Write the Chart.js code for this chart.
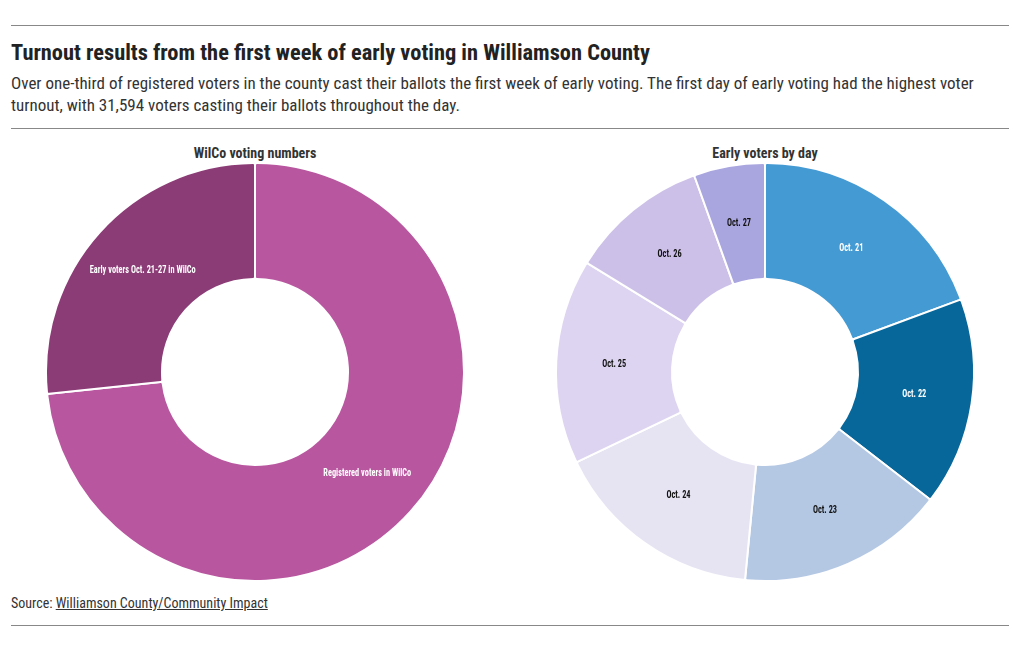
<!DOCTYPE html>
<html>
<head>
<meta charset="utf-8">
<script src="https://cdn.jsdelivr.net/npm/chart.js@4"></script>
<style>
  body { margin: 0; background: #fff; font-family: "Roboto Condensed", "Liberation Sans Narrow", "DejaVu Sans Condensed", Roboto, sans-serif; color: #333; }
  #page { position: relative; width: 1020px; height: 650px; }
  .rule { position: absolute; left: 11px; width: 998px; height: 1px; background: #888; }
  #title { position: absolute; left: 11px; top: 39px; font-size: 22.4px; font-weight: bold; color: #222; white-space: nowrap; }
  #sub { position: absolute; left: 11px; top: 72px; width: 990px; font-size: 17px; line-height: 22px; color: #333; }
  .ctitle { position: absolute; top: 145px; width: 488px; text-align: center; font-size: 14px; font-weight: bold; color: #333; }
  .box { position: absolute; top: 162px; width: 488px; height: 420px; }
  #source { position: absolute; left: 11px; top: 595px; font-size: 14px; color: #333; }
  #source a { color: #333; text-decoration: underline; }
</style>
</head>
<body>
<div id="page">
  <div class="rule" style="top:25px"></div>
  <div id="title">Turnout results from the first week of early voting in Williamson County</div>
  <div id="sub">Over one-third of registered voters in the county cast their ballots the first week of early voting. The first day of early voting had the highest voter turnout, with 31,594 voters casting their ballots throughout the day.</div>
  <div class="rule" style="top:128px"></div>

  <div class="ctitle" style="left:11px">WilCo voting numbers</div>
  <div class="ctitle" style="left:521px">Early voters by day</div>
  <div class="box" style="left:11px"><canvas id="left"></canvas></div>
  <div class="box" style="left:521px"><canvas id="right"></canvas></div>

  <div id="source">Source: <a href="#">Williamson County/Community Impact</a></div>
  <div class="rule" style="top:625px"></div>
</div>
<script>
// WilCo totals (clockwise from the top)
const wilcoLabels = ["Registered voters in WilCo", "Early voters Oct. 21-27 in WilCo"];
const wilcoValues = [437000, 159000];
const wilcoColors = ["#b8569f", "#8b3b75"];
const wilcoText = ["#fff", "#fff"];

// early voters per day
const dayLabels = ["Oct. 21", "Oct. 22", "Oct. 23", "Oct. 24", "Oct. 25", "Oct. 26", "Oct. 27"];
const dayValues = [31594, 26290, 26200, 26700, 25880, 17540, 8980];
const dayColors = ["#449ad3", "#07679b", "#b4c8e4", "#e6e4f3", "#ddd4f1", "#ccc0e8", "#a9a5df"];
const dayText = ["#fff", "#fff", "#111", "#111", "#111", "#111", "#111"];

const labelFont = '"Roboto Condensed", "Liberation Sans Narrow", "DejaVu Sans Condensed", Roboto, sans-serif';

// draws each slice name in the middle of its arc (squeezed a bit, the original font is narrower)
const sliceLabels = {
  id: "sliceLabels",
  afterDatasetsDraw(chart, args, opts) {
    const ctx = chart.ctx;
    const meta = chart.getDatasetMeta(0);
    ctx.font = "bold 10px " + labelFont;
    ctx.textAlign = "center";
    ctx.textBaseline = "middle";
    meta.data.forEach((arc, i) => {
      const p = arc.tooltipPosition();
      ctx.save();
      ctx.translate(p.x, p.y);
      ctx.scale(0.83, 1);
      ctx.fillStyle = opts.colors[i];
      ctx.fillText(chart.data.labels[i], 0, 0);
      ctx.restore();
    });
  }
};

function makeDonut(id, labels, values, colors, textColors) {
  new Chart(document.getElementById(id), {
    type: "doughnut",
    data: {
      labels: labels,
      datasets: [{
        data: values,
        backgroundColor: colors,
        borderColor: "#fff",
        borderWidth: 2,
        borderRadius: 2,
        hoverOffset: 0
      }]
    },
    options: {
      responsive: true,
      maintainAspectRatio: false,
      animation: false,
      cutout: "44.5%",
      layout: { padding: 0 },
      plugins: {
        legend: { display: false },
        tooltip: { enabled: false },
        sliceLabels: { colors: textColors }
      }
    },
    plugins: [sliceLabels]
  });
}

makeDonut("left", wilcoLabels, wilcoValues, wilcoColors, wilcoText);
makeDonut("right", dayLabels, dayValues, dayColors, dayText);
</script>
</body>
</html>
